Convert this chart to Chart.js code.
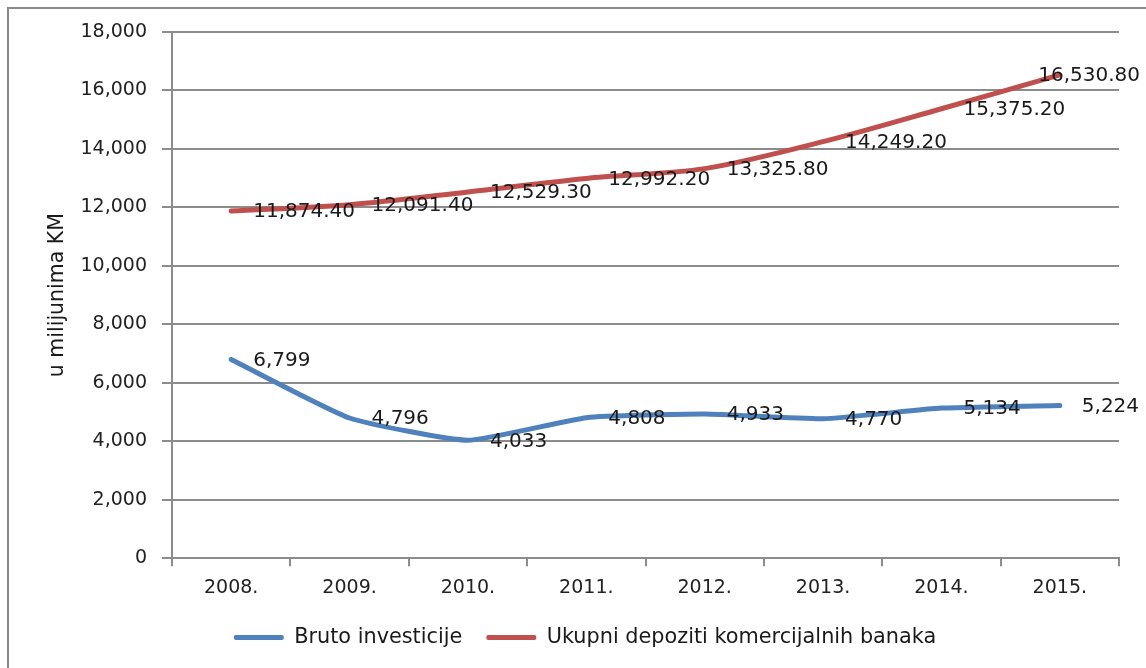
<!DOCTYPE html>
<html>
<head>
<meta charset="utf-8">
<script src="https://cdn.jsdelivr.net/npm/chart.js@4.4.1/dist/chart.umd.min.js"></script>
<style>
  html, body { margin: 0; padding: 0; background: #fff; }
  #frame {
    position: absolute; left: 7px; top: 7px; width: 1200px; height: 700px;
    border-top: 2px solid #8a8a8a; border-left: 2px solid #8a8a8a;
  }
  #wrap { position: absolute; left: 0; top: 0; width: 1146px; height: 668px; }
</style>
</head>
<body>
<div id="frame"></div>
<div id="wrap"><canvas id="chart"></canvas></div>
<script>
const years = ["2008.", "2009.", "2010.", "2011.", "2012.", "2013.", "2014.", "2015."];
const brutoInvesticije = [6799, 4796, 4033, 4808, 4933, 4770, 5134, 5224];
const ukupniDepoziti = [11874.4, 12091.4, 12529.3, 12992.2, 13325.8, 14249.2, 15375.2, 16530.8];
const labelDecimals = [0, 2];
const yMin = 0, yMax = 18000, yStep = 2000;

const FONT = '"DejaVu Sans", sans-serif';
const GRID = "#8c8c8c";

// value labels to the right of each point, pulled back in if they would run off the canvas
const valueLabels = {
  id: "valueLabels",
  afterDatasetsDraw(chart) {
    const ctx = chart.ctx;
    ctx.save();
    ctx.font = "20px " + FONT;
    ctx.fillStyle = "#1a1a1a";
    ctx.textBaseline = "middle";
    ctx.textAlign = "left";
    chart.data.datasets.forEach((ds, i) => {
      const d = labelDecimals[i];
      chart.getDatasetMeta(i).data.forEach((pt, j) => {
        const txt = ds.data[j].toLocaleString("en-US", { minimumFractionDigits: d, maximumFractionDigits: d });
        const w = ctx.measureText(txt).width;
        const x = Math.min(pt.x + 22, chart.width - w - 6);
        ctx.fillText(txt, x, pt.y + 1);
      });
    });
    ctx.restore();
  }
};

new Chart(document.getElementById("chart").getContext("2d"), {
  type: "line",
  data: {
    labels: years,
    datasets: [
      {
        label: "Bruto investicije",
        data: brutoInvesticije,
        borderColor: "#4f81bd",
        backgroundColor: "#4f81bd",
        borderWidth: 5,
        tension: 0.15,
        pointRadius: 0,
        borderCapStyle: "round",
        borderJoinStyle: "round",
      },
      {
        label: "Ukupni depoziti komercijalnih banaka",
        data: ukupniDepoziti,
        borderColor: "#c0504d",
        backgroundColor: "#c0504d",
        borderWidth: 5,
        tension: 0.3,
        pointRadius: 0,
        borderCapStyle: "round",
        borderJoinStyle: "round",
      },
    ],
  },
  options: {
    responsive: true,
    maintainAspectRatio: false,
    animation: false,
    layout: { padding: { left: 51, right: 27, top: 32, bottom: 10 } },
    plugins: {
      tooltip: { enabled: false },
      legend: {
        position: "bottom",
        labels: {
          font: { family: FONT, size: 20.8 },
          color: "#1a1a1a",
          boxWidth: 50,
          boxHeight: 5,
          padding: 24,
          generateLabels(chart) {
            return chart.data.datasets.map((ds, i) => ({
              text: ds.label,
              fillStyle: ds.borderColor,
              strokeStyle: ds.borderColor,
              lineWidth: 0,
              borderRadius: 2,
              datasetIndex: i,
              fontColor: "#1a1a1a",
            }));
          },
        },
      },
    },
    scales: {
      x: {
        offset: true,
        grid: { offset: true, drawOnChartArea: false, drawTicks: true, tickLength: 8, color: GRID, lineWidth: 2 },
        border: { color: GRID, width: 2 },
        ticks: { font: { family: FONT, size: 19 }, color: "#222", padding: 10 },
        afterFit(scale) { scale.height = 45; },
      },
      y: {
        min: yMin,
        max: yMax,
        ticks: {
          stepSize: yStep,
          font: { family: FONT, size: 19 },
          color: "#222",
          padding: 15,
          callback: (v) => v.toLocaleString("en-US"),
        },
        grid: { color: GRID, lineWidth: 2, tickLength: 10 },
        border: { color: GRID, width: 2 },
        title: {
          display: true,
          text: "u milijunima KM",
          font: { family: FONT, size: 20.5 },
          color: "#1a1a1a",
          padding: { top: -6, bottom: 0 },
        },
        afterFit(scale) { scale.width = 121; },
      },
    },
  },
  plugins: [valueLabels],
});
</script>
</body>
</html>
